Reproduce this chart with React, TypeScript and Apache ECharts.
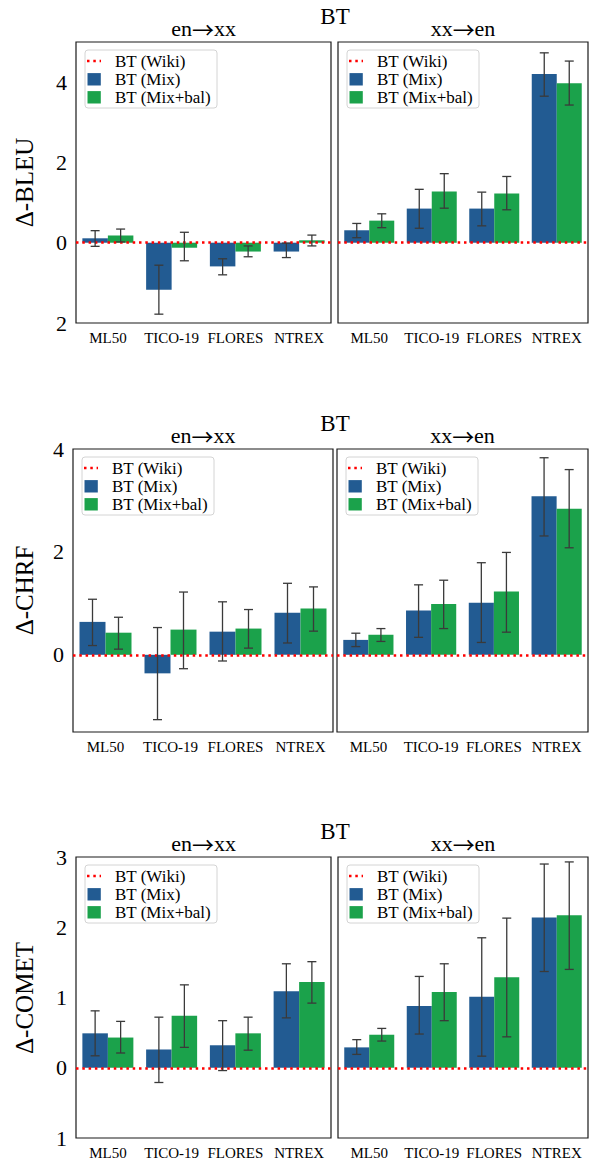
import React, { useEffect, useRef } from "react";
import * as echarts from "echarts";

const categories = ["ML50", "TICO-19", "FLORES", "NTREX"];
const legendNames = ["BT (Wiki)", "BT (Mix)", "BT (Mix+bal)"];
const metricNames = ["Δ-BLEU", "Δ-CHRF", "Δ-COMET"];
const directionFrom = ["en", "xx"];
const directionTo = ["xx", "en"];

// BLEU
const bleuEnXxMix = [0.11, -1.17, -0.59, -0.22];
const bleuEnXxMixLo = [-0.09, -1.78, -0.8, -0.37];
const bleuEnXxMixHi = [0.3, -0.56, -0.4, -0.01];
const bleuEnXxBal = [0.18, -0.125, -0.22, 0.06];
const bleuEnXxBalLo = [0.02, -0.45, -0.35, -0.08];
const bleuEnXxBalHi = [0.34, 0.26, -0.08, 0.19];
const bleuXxEnMix = [0.31, 0.85, 0.85, 4.2];
const bleuXxEnMixLo = [0.125, 0.36, 0.42, 3.65];
const bleuXxEnMixHi = [0.48, 1.33, 1.26, 4.73];
const bleuXxEnBal = [0.55, 1.275, 1.225, 3.975];
const bleuXxEnBalLo = [0.375, 0.86, 0.82, 3.43];
const bleuXxEnBalHi = [0.72, 1.72, 1.65, 4.525];

// CHRF
const chrfEnXxMix = [0.64, -0.36, 0.45, 0.82];
const chrfEnXxMixLo = [0.18, -1.26, -0.12, 0.23];
const chrfEnXxMixHi = [1.08, 0.53, 1.03, 1.39];
const chrfEnXxBal = [0.43, 0.49, 0.51, 0.9];
const chrfEnXxBalLo = [0.11, -0.27, 0.13, 0.46];
const chrfEnXxBalHi = [0.73, 1.22, 0.88, 1.32];
const chrfXxEnMix = [0.29, 0.86, 1.01, 3.08];
const chrfXxEnMixLo = [0.16, 0.34, 0.24, 2.31];
const chrfXxEnMixHi = [0.42, 1.36, 1.79, 3.83];
const chrfXxEnBal = [0.39, 0.99, 1.23, 2.84];
const chrfXxEnBalLo = [0.26, 0.51, 0.44, 2.08];
const chrfXxEnBalHi = [0.51, 1.45, 1.99, 3.6];

// COMET
const cometEnXxMix = [0.49, 0.26, 0.32, 1.09];
const cometEnXxMixLo = [0.17, -0.21, -0.04, 0.71];
const cometEnXxMixHi = [0.81, 0.72, 0.67, 1.48];
const cometEnXxBal = [0.43, 0.74, 0.49, 1.22];
const cometEnXxBalLo = [0.21, 0.29, 0.25, 0.92];
const cometEnXxBalHi = [0.66, 1.18, 0.72, 1.51];
const cometXxEnMix = [0.29, 0.88, 1.01, 2.14];
const cometXxEnMixLo = [0.19, 0.48, 0.165, 1.37];
const cometXxEnMixHi = [0.4, 1.3, 1.85, 2.9];
const cometXxEnBal = [0.47, 1.08, 1.29, 2.17];
const cometXxEnBalLo = [0.38, 0.67, 0.44, 1.4];
const cometXxEnBalHi = [0.56, 1.48, 2.13, 2.93];

// y ranges per metric row
const yMins = [-2, -1.5, -1];
const yMaxs = [5, 4, 3];
const yIntervals = [1, 0.5, 1];
const yLabelStep = [2, 2, 1];

const FONT = "'Liberation Serif', 'DejaVu Serif', serif";
const BLUE = "#225b92";
const GREEN = "#1ba24b";
const ERR = "#3a3a3a";

const panels = [
  { mix: bleuEnXxMix, mixLo: bleuEnXxMixLo, mixHi: bleuEnXxMixHi, bal: bleuEnXxBal, balLo: bleuEnXxBalLo, balHi: bleuEnXxBalHi },
  { mix: bleuXxEnMix, mixLo: bleuXxEnMixLo, mixHi: bleuXxEnMixHi, bal: bleuXxEnBal, balLo: bleuXxEnBalLo, balHi: bleuXxEnBalHi },
  { mix: chrfEnXxMix, mixLo: chrfEnXxMixLo, mixHi: chrfEnXxMixHi, bal: chrfEnXxBal, balLo: chrfEnXxBalLo, balHi: chrfEnXxBalHi },
  { mix: chrfXxEnMix, mixLo: chrfXxEnMixLo, mixHi: chrfXxEnMixHi, bal: chrfXxEnBal, balLo: chrfXxEnBalLo, balHi: chrfXxEnBalHi },
  { mix: cometEnXxMix, mixLo: cometEnXxMixLo, mixHi: cometEnXxMixHi, bal: cometEnXxBal, balLo: cometEnXxBalLo, balHi: cometEnXxBalHi },
  { mix: cometXxEnMix, mixLo: cometXxEnMixLo, mixHi: cometXxEnMixHi, bal: cometXxEnBal, balLo: cometXxEnBalLo, balHi: cometXxEnBalHi },
];

// layout (pixels)
const gridBoxes = [
  { left: 76, top: 42, width: 255, height: 281 },
  { left: 338, top: 42, width: 250, height: 281 },
  { left: 73, top: 449, width: 260, height: 283 },
  { left: 337, top: 449, width: 251, height: 283 },
  { left: 76, top: 857, width: 255, height: 282 },
  { left: 338, top: 857, width: 250, height: 282 },
];

function buildOption() {
  const grid: any[] = [];
  const xAxis: any[] = [];
  const yAxis: any[] = [];
  const series: any[] = [];
  const graphic: any[] = [];

  gridBoxes.forEach((g, i) => {
    const row = Math.floor(i / 2);
    const col = i % 2;
    grid.push({
      left: g.left,
      top: g.top,
      width: g.width,
      height: g.height,
      show: true,
      borderColor: "#1a1a1a",
      borderWidth: 1.2,
      backgroundColor: "transparent",
      containLabel: false,
    });
    xAxis.push({
      type: "category",
      gridIndex: i,
      data: categories,
      axisLine: { show: false },
      axisTick: { show: false },
      axisLabel: { fontFamily: FONT, fontSize: 15, color: "#000", margin: 7, interval: 0 },
      splitLine: { show: false },
    });
    const step = yLabelStep[row];
    yAxis.push({
      type: "value",
      gridIndex: i,
      min: yMins[row],
      max: yMaxs[row],
      interval: yIntervals[row],
      axisLine: { show: false },
      axisTick: { show: false },
      splitLine: { show: false },
      axisLabel: {
        show: col === 0,
        fontFamily: FONT,
        fontSize: 22,
        color: "#000",
        margin: 9,
        showMaxLabel: true,
        showMinLabel: true,
        formatter: (v: number) => {
          const r = Math.round(v * 1000) / 1000;
          if (Math.abs(r - Math.round(r)) > 1e-6) return "";
          if (Math.round(r) % step !== 0) return "";
          if (r >= yMaxs[row] && yMaxs[row] % step !== 0) return "";
          return String(Math.abs(Math.round(r)));
        },
      },
    });

    const p = panels[i];
    series.push({
      name: legendNames[1],
      type: "bar",
      xAxisIndex: i,
      yAxisIndex: i,
      data: p.mix,
      itemStyle: { color: BLUE },
      barWidth: "40%",
      barGap: "0%",
      z: 2,
    });
    series.push({
      name: legendNames[2],
      type: "bar",
      xAxisIndex: i,
      yAxisIndex: i,
      data: p.bal,
      itemStyle: { color: GREEN },
      barWidth: "40%",
      barGap: "0%",
      z: 2,
    });
    series.push({
      name: legendNames[0],
      type: "line",
      xAxisIndex: i,
      yAxisIndex: i,
      data: ["-", "-", "-", "-"],
      showSymbol: false,
      z: 4,
      markLine: {
        silent: true,
        symbol: "none",
        label: { show: false },
        lineStyle: { color: "#ff0000", type: [2.5, 3.8], width: 2.6, cap: "butt" },
        data: [{ yAxis: 0 }],
      },
    });
    const errData: any[] = [];
    for (let k = 0; k < categories.length; k++) {
      errData.push([k, p.mixLo[k], p.mixHi[k], -1]);
      errData.push([k, p.balLo[k], p.balHi[k], 1]);
    }
    series.push({
      type: "custom",
      xAxisIndex: i,
      yAxisIndex: i,
      z: 6,
      encode: { x: 0, y: [1, 2] },
      data: errData,
      renderItem: (params: any, api: any) => {
        const x = api.value(0);
        const lo = api.value(1);
        const hi = api.value(2);
        const off = api.value(3);
        const pLo = api.coord([x, lo]);
        const pHi = api.coord([x, hi]);
        const bw = api.size([1, 0])[0];
        const cx = pLo[0] + off * bw * 0.2;
        const cap = 4.5;
        const st = { stroke: ERR, lineWidth: 1.3 };
        return {
          type: "group",
          children: [
            { type: "line", shape: { x1: cx, y1: pLo[1], x2: cx, y2: pHi[1] }, style: st },
            { type: "line", shape: { x1: cx - cap, y1: pLo[1], x2: cx + cap, y2: pLo[1] }, style: st },
            { type: "line", shape: { x1: cx - cap, y1: pHi[1], x2: cx + cap, y2: pHi[1] }, style: st },
          ],
        };
      },
    });

    // legend box
    const lx = g.left + 9;
    const ly = g.top + 8;
    graphic.push({
      type: "rect",
      shape: { x: lx, y: ly, width: 132, height: 58, r: 3 },
      style: { fill: "rgba(255,255,255,0.85)", stroke: "#d4d4d4", lineWidth: 1 },
      z: 20,
    });
    const rows = [ly + 11, ly + 29.3, ly + 47.3];
    graphic.push({
      type: "line",
      shape: { x1: lx + 2, y1: rows[0], x2: lx + 16, y2: rows[0] },
      style: { stroke: "#ff0000", lineWidth: 2.6, lineDash: [2.5, 3.8] },
      z: 21,
    });
    graphic.push({
      type: "rect",
      shape: { x: lx + 2.5, y: rows[1] - 6.2, width: 13.3, height: 12.4 },
      style: { fill: BLUE },
      z: 21,
    });
    graphic.push({
      type: "rect",
      shape: { x: lx + 2.5, y: rows[2] - 6.2, width: 13.3, height: 12.4 },
      style: { fill: GREEN },
      z: 21,
    });
    legendNames.forEach((nm, j) => {
      graphic.push({
        type: "text",
        x: lx + 30,
        y: rows[j],
        style: {
          text: nm,
          font: `17px ${FONT}`,
          fill: "#000",
          textAlign: "left",
          textVerticalAlign: "middle",
        },
        z: 21,
      });
    });

    // subtitle
    graphic.push({
      type: "text",
      x: g.left + g.width / 2,
      y: g.top - 14,
      style: {
        text: `{t|${directionFrom[col]}}{a|→}{t|${directionTo[col]}}`,
        rich: {
          t: { fontFamily: FONT, fontSize: 22, fill: "#000", color: "#000" },
          a: { fontFamily: "'Noto Sans CJK JP', 'DejaVu Serif', serif", fontSize: 22, fill: "#000", color: "#000" },
        },
        fill: "#000",
        textAlign: "center",
        textVerticalAlign: "middle",
      },
      z: 21,
    });

    if (col === 0) {
      // y axis name
      graphic.push({
        type: "text",
        x: 24,
        y: g.top + g.height / 2,
        rotation: Math.PI / 2,
        style: {
          text: metricNames[row],
          font: `25px ${FONT}`,
          fill: "#000",
          textAlign: "center",
          textVerticalAlign: "middle",
        },
        z: 21,
      });
      // suptitle
      graphic.push({
        type: "text",
        x: 335,
        y: g.top - 26,
        style: {
          text: "BT",
          font: `23px ${FONT}`,
          fill: "#000",
          textAlign: "center",
          textVerticalAlign: "middle",
        },
        z: 21,
      });
    }
  });

  return {
    animation: false,
    backgroundColor: "#ffffff",
    grid,
    xAxis,
    yAxis,
    series,
    graphic,
  };
}

export default function App() {
  const ref = useRef<HTMLDivElement>(null);
  useEffect(() => {
    document.body.style.margin = "0";
    if (!ref.current) return;
    const chart = echarts.init(ref.current, undefined, { renderer: "svg" });
    chart.setOption(buildOption() as any);
    return () => {
      chart.dispose();
    };
  }, []);
  return <div ref={ref} style={{ width: 590, height: 1160 }} />;
}
